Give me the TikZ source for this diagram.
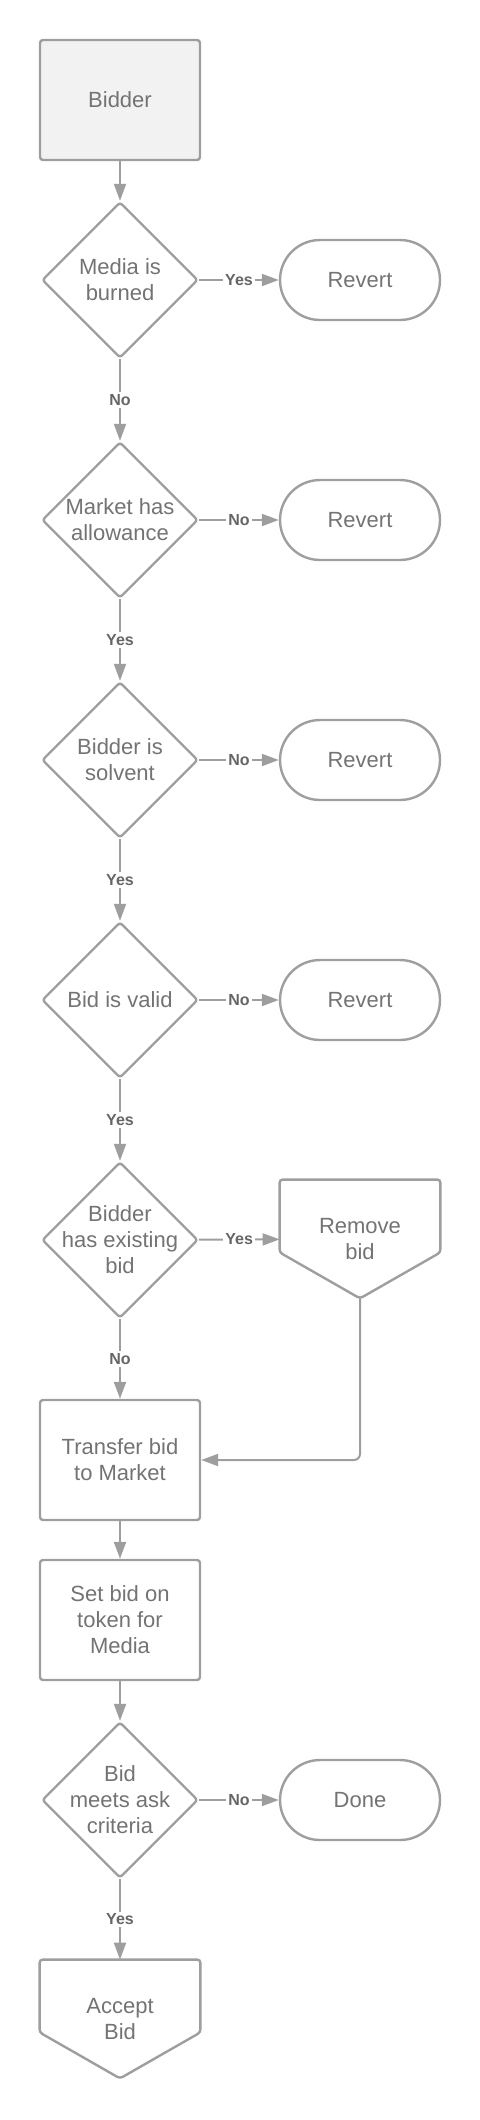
\documentclass[tikz,border=0pt]{standalone}
\usepackage{fontspec}
\setmainfont{Liberation Sans}
\usetikzlibrary{shapes.geometric, arrows.meta, positioning, calc}
\definecolor{linegray}{HTML}{9E9E9E}
\definecolor{textgray}{HTML}{737373}
\definecolor{labelgray}{HTML}{666666}
\definecolor{startfill}{HTML}{F2F2F2}

\begin{document}
\begin{tikzpicture}[x=0.5pt, y=-0.5pt,
  every node/.style={font=\fontsize{11}{13}\selectfont, text=textgray},
  proc/.style={draw=linegray, line width=1.2pt, rounded corners=1.5pt, minimum width=80pt, minimum height=60pt, align=center, inner sep=2pt},
  dec/.style={diamond, aspect=1, draw=linegray, line width=1.2pt, rounded corners=1.5pt, minimum width=78pt, minimum height=78pt, inner sep=-20pt, align=center},
  term/.style={draw=linegray, line width=1.2pt, rounded corners=20pt, minimum width=80pt, minimum height=40pt, align=center},
  offp/.style={minimum width=80pt, minimum height=59pt, align=center},
  outl/.style={draw=linegray, line width=1.2pt, rounded corners=1.5pt},
  arr/.style={-{Triangle[length=8.5pt, width=6pt]}, line width=1pt, linegray},
  lbl/.style={fill=white, font=\bfseries\fontsize{8}{9}\selectfont, text=labelgray, inner sep=1pt}
]
  \useasboundingbox (0,0) rectangle (480,2120);

  % main column
  \node[proc, fill=startfill] (bidder) at (120, 100) {Bidder};
  \node[dec] (burned) at (120, 280) {Media is\\burned};
  \node[dec] (allow) at (120, 520) {Market has\\allowance};
  \node[dec] (solvent) at (120, 760) {Bidder is\\solvent};
  \node[dec] (valid) at (120, 1000) {Bid is valid};
  \node[dec] (existing) at (120, 1240) {Bidder\\has existing\\bid};
  \node[proc] (transfer) at (120, 1460) {Transfer bid\\to Market};
  \node[proc] (setbid) at (120, 1620) {Set bid on\\token for\\Media};
  \node[dec] (meets) at (120, 1800) {Bid\\meets ask\\criteria};
  \node[offp] (accept) at (120, 2019) {Accept\\Bid};

  % right column
  \node[term] (rev1) at (360, 280) {Revert};
  \node[term] (rev2) at (360, 520) {Revert};
  \node[term] (rev3) at (360, 760) {Revert};
  \node[term] (rev4) at (360, 1000) {Revert};
  \node[offp] (remove) at (360, 1239) {Remove\\bid};
  \node[term] (done) at (360, 1800) {Done};

  % off-page outlines
  \draw[outl] (remove.north west) -- (remove.north east) -- ([yshift=23pt]remove.south east) -- (remove.south) -- ([yshift=23pt]remove.south west) -- cycle;
  \draw[outl] (accept.north west) -- (accept.north east) -- ([yshift=23pt]accept.south east) -- (accept.south) -- ([yshift=23pt]accept.south west) -- cycle;

  \draw[arr] (bidder) -- (burned);
  \draw[arr] (burned) -- node[lbl] {Yes} (rev1);
  \draw[arr] (burned) -- node[lbl] {No} (allow);
  \draw[arr] (allow) -- node[lbl] {No} (rev2);
  \draw[arr] (allow) -- node[lbl] {Yes} (solvent);
  \draw[arr] (solvent) -- node[lbl] {No} (rev3);
  \draw[arr] (solvent) -- node[lbl] {Yes} (valid);
  \draw[arr] (valid) -- node[lbl] {No} (rev4);
  \draw[arr] (valid) -- node[lbl] {Yes} (existing);
  \draw[arr] (existing) -- node[lbl] {Yes} (remove);
  \draw[arr] (existing) -- node[lbl] {No} (transfer);
  \draw[arr, rounded corners=3pt] (remove.south) |- (transfer.east);
  \draw[arr] (transfer) -- (setbid);
  \draw[arr] (setbid) -- (meets);
  \draw[arr] (meets) -- node[lbl] {No} (done);
  \draw[arr] (meets) -- node[lbl] {Yes} (accept);
\end{tikzpicture}
\end{document}
